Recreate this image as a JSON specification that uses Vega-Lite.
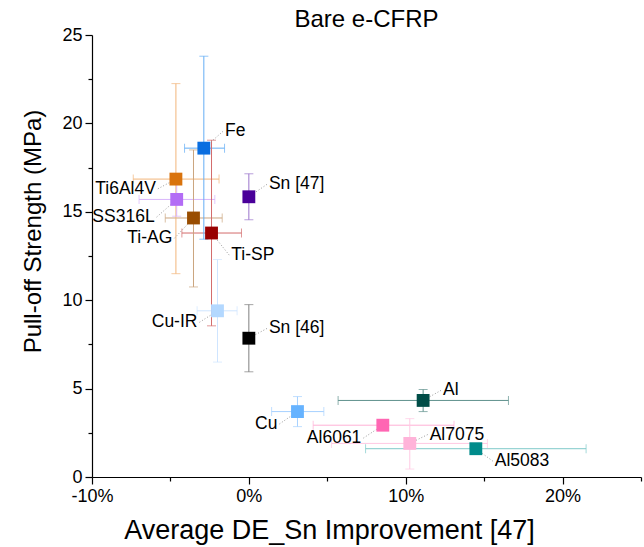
{
  "$schema": "https://vega.github.io/schema/vega-lite/v6.json",
  "autosize": "none",
  "width": 549,
  "height": 442,
  "padding": {"left": 92, "top": 35, "right": 3, "bottom": 70},
  "title": {"text": "Bare e-CFRP", "fontSize": 24, "font": "Liberation Sans", "fontWeight": "normal", "anchor": "middle", "baseline": "alphabetic", "offset": 4, "dy": 29, "color": "#000"},
  "config": {
    "view": {"stroke": null},
    "font": "Liberation Sans",
    "axis": {"grid": false, "domainColor": "#000", "tickColor": "#000", "labelColor": "#000", "titleColor": "#000", "labelFont": "Liberation Sans", "titleFont": "Liberation Sans", "labelFontSize": 18, "titleFontWeight": "normal", "domainWidth": 1.2, "tickWidth": 1.2, "labelFlush": false}
  },
  "data": {"values": [
    {"name": "Fe", "x": -0.0287, "y": 18.6, "xlo": -0.041, "xhi": -0.0155, "ylo": 13.45, "yhi": 23.8, "lx": -0.0165, "ly": 19.55},
    {"name": "Ti6Al4V", "x": -0.0465, "y": 16.85, "xlo": -0.0737, "xhi": -0.019, "ylo": 11.5, "yhi": 22.25, "lx": -0.058, "ly": 16.3},
    {"name": "SS316L", "x": -0.046, "y": 15.7, "xlo": -0.07, "xhi": -0.0217, "ylo": 14.75, "yhi": 16.7, "lx": -0.0588, "ly": 14.7},
    {"name": "Ti-AG", "x": -0.0353, "y": 14.65, "xlo": -0.0533, "xhi": -0.017, "ylo": 10.75, "yhi": 18.5, "lx": -0.0475, "ly": 13.5},
    {"name": "Ti-SP", "x": -0.0238, "y": 13.8, "xlo": -0.0427, "xhi": -0.0047, "ylo": 8.55, "yhi": 19.05, "lx": -0.0125, "ly": 12.55},
    {"name": "Sn [47]", "x": 0, "y": 15.85, "xlo": null, "xhi": null, "ylo": 14.55, "yhi": 17.15, "lx": 0.0115, "ly": 16.55},
    {"name": "Cu-IR", "x": -0.02, "y": 9.4, "xlo": -0.033, "xhi": -0.0075, "ylo": 6.5, "yhi": 12.3, "lx": -0.0315, "ly": 8.75},
    {"name": "Sn [46]", "x": 0, "y": 7.85, "xlo": null, "xhi": null, "ylo": 5.95, "yhi": 9.75, "lx": 0.0115, "ly": 8.4},
    {"name": "Al", "x": 0.1111, "y": 4.33, "xlo": 0.0569, "xhi": 0.1655, "ylo": 3.7, "yhi": 4.95, "lx": 0.1225, "ly": 4.9},
    {"name": "Cu", "x": 0.031, "y": 3.7, "xlo": 0.0145, "xhi": 0.0478, "ylo": 2.85, "yhi": 4.55, "lx": 0.0195, "ly": 3.0},
    {"name": "Al6061", "x": 0.0854, "y": 2.93, "xlo": 0.041, "xhi": 0.1308, "ylo": null, "yhi": null, "lx": 0.073, "ly": 2.2},
    {"name": "Al7075", "x": 0.1026, "y": 1.9, "xlo": 0.0527, "xhi": 0.1521, "ylo": 0.45, "yhi": 3.3, "lx": 0.114, "ly": 2.4},
    {"name": "Al5083", "x": 0.1447, "y": 1.6, "xlo": 0.0744, "xhi": 0.215, "ylo": null, "yhi": null, "lx": 0.1555, "ly": 0.9}
  ]},
  "encoding": {
    "x": {"field": "x", "type": "quantitative", "scale": {"domain": [-0.1, 0.25], "nice": false, "zero": false},
      "axis": {"title": "Average DE_Sn Improvement [47]", "titleFontSize": 27, "values": [-0.1, -0.05, 0, 0.05, 0.1, 0.15, 0.2, 0.25],
        "labelExpr": "abs(round(datum.value*100)) % 10 == 0 && datum.value < 0.24 ? toString(round(datum.value*100)) + '%' : ''",
        "tickSize": {"condition": {"test": "abs(round(datum.value*100)) % 10 == 0", "value": 7}, "value": 4},
        "labelPadding": 3, "titleX": 237, "titleY": 61, "titleBaseline": "alphabetic"}},
    "y": {"field": "y", "type": "quantitative", "scale": {"domain": [0, 25], "nice": false},
      "axis": {"title": "Pull-off Strength (MPa)", "titleFontSize": 24, "values": [0, 2.5, 5, 7.5, 10, 12.5, 15, 17.5, 20, 22.5, 25],
        "labelExpr": "datum.value % 5 == 0 ? toString(datum.value) : ''",
        "tickSize": {"condition": {"test": "datum.value % 5 == 0", "value": 7}, "value": 4},
        "labelPadding": 3, "titleX": -52, "titleY": 196, "titleBaseline": "alphabetic"}}
  },
  "layer": [
    {"transform": [{"filter": "isValid(datum.xlo)"}],
     "mark": {"type": "rule", "strokeWidth": 1},
     "encoding": {"x": {"field": "xlo", "type": "quantitative"}, "x2": {"field": "xhi"},
       "color": {"field": "name", "type": "nominal", "legend": null,
         "scale": {"domain": ["Fe","Ti6Al4V","SS316L","Ti-AG","Ti-SP","Sn [47]","Cu-IR","Sn [46]","Al","Cu","Al6061","Al7075","Al5083"],
           "range": ["#64aef5","#f2b57a","#d9b5fb","#cba57f","#d36b6b","#9a75cc","#cfe5ff","#7f7f7f","#5f918d","#a6d1ff","#ffb0d5","#ffc9e3","#7fcaca"]}}}},
    {"transform": [{"filter": "isValid(datum.ylo)"}],
     "mark": {"type": "rule", "strokeWidth": 1},
     "encoding": {"y": {"field": "ylo", "type": "quantitative"}, "y2": {"field": "yhi"},
       "color": {"field": "name", "type": "nominal", "legend": null,
         "scale": {"domain": ["Fe","Ti6Al4V","SS316L","Ti-AG","Ti-SP","Sn [47]","Cu-IR","Sn [46]","Al","Cu","Al6061","Al7075","Al5083"],
           "range": ["#64aef5","#f2b57a","#d9b5fb","#cba57f","#d36b6b","#9a75cc","#cfe5ff","#7f7f7f","#5f918d","#a6d1ff","#ffb0d5","#ffc9e3","#7fcaca"]}}}},
    {"transform": [{"filter": "isValid(datum.xlo)"}, {"fold": ["xlo", "xhi"], "as": ["end", "xv"]}],
     "mark": {"type": "tick", "orient": "vertical", "size": 9, "thickness": 1},
     "encoding": {"x": {"field": "xv", "type": "quantitative"},
       "color": {"field": "name", "type": "nominal", "legend": null,
         "scale": {"domain": ["Fe","Ti6Al4V","SS316L","Ti-AG","Ti-SP","Sn [47]","Cu-IR","Sn [46]","Al","Cu","Al6061","Al7075","Al5083"],
           "range": ["#64aef5","#f2b57a","#d9b5fb","#cba57f","#d36b6b","#9a75cc","#cfe5ff","#7f7f7f","#5f918d","#a6d1ff","#ffb0d5","#ffc9e3","#7fcaca"]}}}},
    {"transform": [{"filter": "isValid(datum.ylo)"}, {"fold": ["ylo", "yhi"], "as": ["end", "yv"]}],
     "mark": {"type": "tick", "orient": "horizontal", "size": 9, "thickness": 1},
     "encoding": {"y": {"field": "yv", "type": "quantitative"},
       "color": {"field": "name", "type": "nominal", "legend": null,
         "scale": {"domain": ["Fe","Ti6Al4V","SS316L","Ti-AG","Ti-SP","Sn [47]","Cu-IR","Sn [46]","Al","Cu","Al6061","Al7075","Al5083"],
           "range": ["#64aef5","#f2b57a","#d9b5fb","#cba57f","#d36b6b","#9a75cc","#cfe5ff","#7f7f7f","#5f918d","#a6d1ff","#ffb0d5","#ffc9e3","#7fcaca"]}}}},
    {"mark": {"type": "rule", "strokeWidth": 1, "strokeDash": [1, 2], "color": "#9a9a9a"},
     "encoding": {"x": {"field": "lx", "type": "quantitative"}, "y": {"field": "ly", "type": "quantitative"}, "x2": {"field": "x"}, "y2": {"field": "y"}}},
    {"mark": {"type": "point", "shape": "square", "filled": true, "size": 165, "opacity": 1},
     "encoding": {
       "color": {"field": "name", "type": "nominal", "legend": null,
         "scale": {"domain": ["Fe","Ti6Al4V","SS316L","Ti-AG","Ti-SP","Sn [47]","Cu-IR","Sn [46]","Al","Cu","Al6061","Al7075","Al5083"],
           "range": ["#0a6ee0","#d9730d","#b36cf5","#994d00","#990000","#4a0099","#b3d8ff","#000000","#004d47","#66b3ff","#ff66b3","#ffb3d9","#008b8b"]}}}},
    {"transform": [{"filter": "datum.lx < datum.x"}],
     "mark": {"type": "text", "align": "right", "baseline": "middle", "dx": -2, "fontSize": 17.5, "font": "Liberation Sans", "color": "#000"},
     "encoding": {"x": {"field": "lx", "type": "quantitative"}, "y": {"field": "ly", "type": "quantitative"}, "text": {"field": "name"}}},
    {"transform": [{"filter": "datum.lx > datum.x"}],
     "mark": {"type": "text", "align": "left", "baseline": "middle", "dx": 2, "fontSize": 17.5, "font": "Liberation Sans", "color": "#000"},
     "encoding": {"x": {"field": "lx", "type": "quantitative"}, "y": {"field": "ly", "type": "quantitative"}, "text": {"field": "name"}}}
  ],
  "resolve": {"scale": {"color": "independent"}}
}
